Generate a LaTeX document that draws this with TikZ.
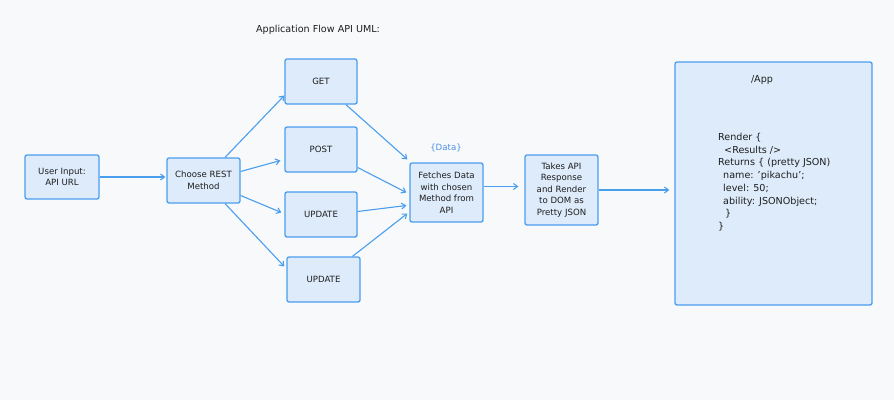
\documentclass[tikz,border=0pt]{standalone}
\usepackage{fontspec}
\setmainfont{DejaVu Sans}
\usetikzlibrary{arrows.meta,calc}
\definecolor{bg}{HTML}{F8F9FB}
\definecolor{stroke}{HTML}{4A9EEE}
\definecolor{boxfill}{HTML}{DDEBFA}
\definecolor{ink}{HTML}{1E1E1E}
\definecolor{datablue}{HTML}{4A8FE6}
\begin{document}
\begin{tikzpicture}[x=1pt,y=-1pt,
  box/.style={draw=stroke,fill=boxfill,line width=1.3pt,rounded corners=2pt,
    inner sep=1pt,align=center,text=ink,font=\fontsize{8.6}{11.5}\selectfont},
  conn/.style={draw=stroke,line width=1.1pt,-{Straight Barb[length=4pt,width=6pt]}},
  lbl/.style={text=ink,font=\fontsize{9.6}{12}\selectfont}]
\fill[bg] (0,0) rectangle (894,400);
\useasboundingbox (0,0) rectangle (894,400);

\node[lbl] (title) at (318,30) {Application Flow API UML:};

\node[box,minimum width=74pt,minimum height=44pt] (user) at (62,177) {User Input:\\API URL};
\node[box,minimum width=73pt,minimum height=45pt] (choose) at (203.5,180.5) {Choose REST\\Method};
\node[box,minimum width=72pt,minimum height=45pt] (get) at (321,81.5) {GET};
\node[box,minimum width=72pt,minimum height=45pt] (post) at (321,149.5) {POST};
\node[box,minimum width=72pt,minimum height=45pt] (upd1) at (321,214.5) {UPDATE};
\node[box,minimum width=73pt,minimum height=45pt] (upd2) at (323.5,279.5) {UPDATE};
\node[box,minimum width=73pt,minimum height=59pt] (fetch) at (446.5,192.5) {Fetches Data\\with chosen\\Method from\\API};
\node[box,minimum width=73pt,minimum height=70pt] (takes) at (561.5,190) {Takes API\\Response\\and Render\\to DOM as\\Pretty JSON};
\node[box,minimum width=197pt,minimum height=243pt] (app) at (773.5,183.5) {};
\node[text=datablue,font=\fontsize{8.6}{11.5}\selectfont] (data) at (446,148) {\{Data\}};
\node[lbl] (apptitle) at (762,80) {/App};
\node[lbl,align=left,anchor=north west,inner sep=0pt,font=\fontsize{9.6}{12.7}\selectfont] (code) at (718,133)
{Render \{\\
\hspace*{6pt}<Results />\\
Returns \{ (pretty JSON)\\
\hspace*{5pt}name: 'pikachu';\\
\hspace*{5pt}level: 50;\\
\hspace*{5pt}ability: JSONObject;\\
\hspace*{7pt}\}\\
\}};

\draw[conn,shorten >=1pt] (user.east) -- (user.east -| choose.west);
\draw[conn] (choose.47) -- ([yshift=-14pt]get.west);
\draw[conn] ([yshift=9pt]choose.east) -- ([xshift=-4pt,yshift=-11pt]post.west);
\draw[conn] ([yshift=-15pt]choose.east) -- ([xshift=-3pt,yshift=2pt]upd1.west);
\draw[conn] (choose.-47) -- ([xshift=-2pt,yshift=13pt]upd2.west);
\draw[conn] ([xshift=25pt]get.south) -- ([xshift=-2pt,yshift=3pt]fetch.north west);
\draw[conn] ([yshift=-18pt]post.east) -- ([xshift=-3pt]fetch.west);
\draw[conn] ([yshift=3pt]upd1.east) -- ([xshift=-3pt,yshift=-13pt]fetch.west);
\draw[conn] ([xshift=29pt]upd2.north) -- ([xshift=-2pt,yshift=-21pt]fetch.west);
\draw[conn,shorten >=6pt] ([yshift=6pt]fetch.east) -- ([yshift=6pt]fetch.east -| takes.west);
\draw[conn,shorten >=5pt] (takes.east) -- (takes.east -| app.west);
\end{tikzpicture}
\end{document}
